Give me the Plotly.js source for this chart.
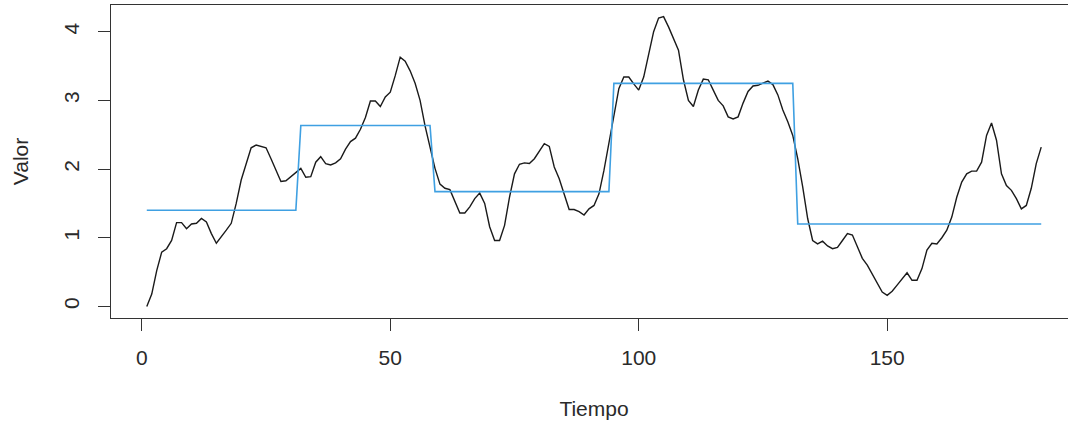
<!DOCTYPE html>
<html>
<head>
<meta charset="utf-8">
<script src="https://cdn.plot.ly/plotly-3.0.1.min.js"></script>
<style>
  html, body { margin: 0; padding: 0; overflow: hidden; background: #fff; }
  #chart { width: 1085px; height: 430px; }
</style>
</head>
<body>
<div id="chart"></div>
<script>
// Observed series (Tiempo 1..181)
const valores = [
  0.00, 0.18, 0.52, 0.79, 0.84, 0.96, 1.22, 1.22, 1.13, 1.20,
  1.21, 1.28, 1.23, 1.06, 0.92, 1.01, 1.11, 1.21, 1.50, 1.84,
  2.08, 2.31, 2.35, 2.33, 2.31, 2.15, 1.98, 1.82, 1.83, 1.89,
  1.96, 2.01, 1.88, 1.89, 2.10, 2.18, 2.08, 2.06, 2.09, 2.15,
  2.29, 2.40, 2.45, 2.58, 2.75, 2.99, 2.99, 2.91, 3.05, 3.12,
  3.36, 3.63, 3.57, 3.43, 3.25, 3.00, 2.63, 2.31, 2.01, 1.78,
  1.72, 1.70, 1.52, 1.36, 1.36, 1.45, 1.57, 1.65, 1.50, 1.16,
  0.96, 0.96, 1.18, 1.59, 1.93, 2.07, 2.09, 2.08, 2.15, 2.27,
  2.37, 2.33, 2.03, 1.86, 1.62, 1.41, 1.41, 1.38, 1.33, 1.42,
  1.47, 1.64, 1.98, 2.37, 2.80, 3.17, 3.34, 3.34, 3.24, 3.15,
  3.34, 3.68, 4.00, 4.20, 4.22, 4.07, 3.90, 3.73, 3.30, 3.00,
  2.91, 3.15, 3.31, 3.30, 3.15, 3.00, 2.92, 2.76, 2.73, 2.76,
  2.96, 3.13, 3.21, 3.22, 3.25, 3.28, 3.23, 3.08, 2.86, 2.69,
  2.49, 2.15, 1.74, 1.28, 0.96, 0.91, 0.95, 0.88, 0.84, 0.86,
  0.96, 1.06, 1.04, 0.86, 0.70, 0.60, 0.47, 0.32, 0.21, 0.16,
  0.22, 0.31, 0.40, 0.49, 0.38, 0.38, 0.55, 0.82, 0.92, 0.91,
  1.00, 1.11, 1.30, 1.59, 1.81, 1.93, 1.97, 1.97, 2.10, 2.49,
  2.67, 2.42, 1.93, 1.76, 1.69, 1.57, 1.42, 1.47, 1.72, 2.08,
  2.32
];

// Segment means (regime levels) and the last time index of each regime
const nivelesMedia = [1.40, 2.635, 1.672, 3.247, 1.20];
const finSegmento  = [31, 58, 94, 131, 181];

// Tick labels
const xTicks = [0, 50, 100, 150];
const yTicks = [0, 1, 2, 3, 4];

const tiempo = valores.map((_, i) => i + 1);
const media = tiempo.map(t => {
  for (let k = 0; k < finSegmento.length; k++) {
    if (t <= finSegmento[k]) return nivelesMedia[k];
  }
  return nivelesMedia[nivelesMedia.length - 1];
});

const font = { family: "Liberation Sans, Arial, sans-serif", size: 21, color: "#2a2a2a" };

const traces = [
  {
    x: tiempo, y: valores, type: "scatter", mode: "lines",
    line: { color: "#1a1a1a", width: 1.4 }, hoverinfo: "x+y", showlegend: false
  },
  {
    x: tiempo, y: media, type: "scatter", mode: "lines",
    line: { color: "#3fa0e2", width: 1.6 }, hoverinfo: "x+y", showlegend: false
  }
];

const layout = {
  width: 1085, height: 430,
  margin: { l: 111, r: 8, t: 5, b: 112 },
  paper_bgcolor: "#fff", plot_bgcolor: "#fff",
  font: font,
  showlegend: false,
  xaxis: {
    range: [-6.2, 188.2],
    tickmode: "array", tickvals: xTicks, ticktext: xTicks.map(String),
    ticks: "outside", ticklen: 12, tickwidth: 1, tickcolor: "#333",
    showline: true, linecolor: "#333", linewidth: 1.2, mirror: true,
    showgrid: false, zeroline: false,
    tickfont: font,
    ticklabelstandoff: 9,
    title: { text: "Tiempo", font: font, standoff: 33 },
    automargin: false
  },
  yaxis: {
    range: [-0.169, 4.389],
    tickmode: "array", tickvals: yTicks, ticktext: yTicks.map(String),
    ticks: "outside", ticklen: 12, tickwidth: 1, tickcolor: "#333",
    tickangle: -90,
    showline: true, linecolor: "#333", linewidth: 1.2, mirror: true,
    showgrid: false, zeroline: false,
    tickfont: font,
    ticklabelstandoff: 11,
    title: { text: "Valor", font: font, standoff: 25 },
    automargin: false
  }
};

Plotly.newPlot("chart", traces, layout, { displayModeBar: false });
</script>
</body>
</html>
